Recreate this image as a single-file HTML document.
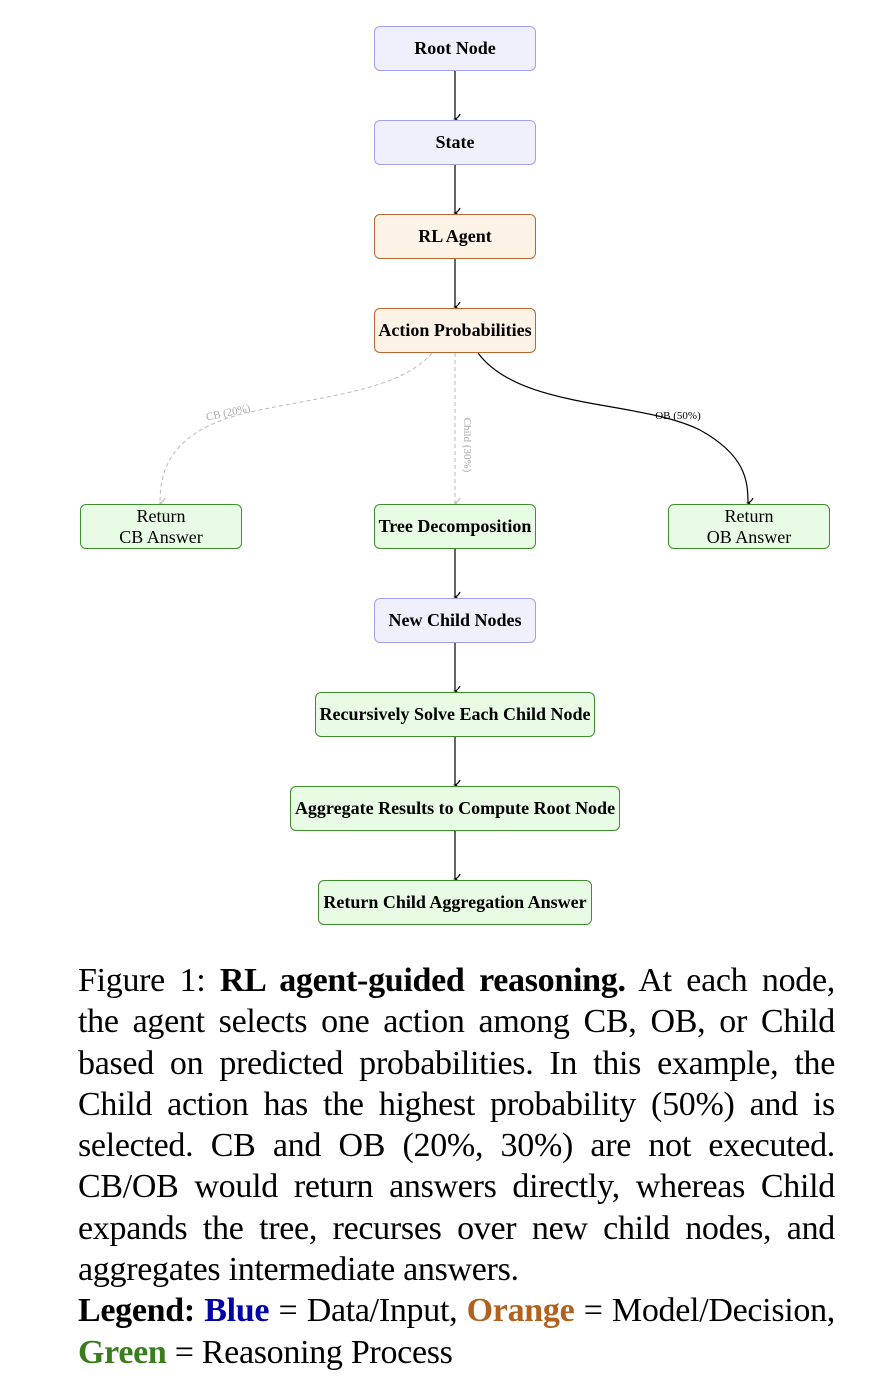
<!DOCTYPE html>
<html><head><meta charset="utf-8"><style>
body{margin:0;background:#fff;width:870px;height:1390px;position:relative;overflow:hidden;font-family:"Liberation Serif",serif}
.b{position:absolute;box-sizing:border-box;border-radius:6px;display:flex;align-items:center;justify-content:center;text-align:center;font-size:18px;font-weight:bold;color:#000;line-height:21px;white-space:nowrap}
.bl{background:#f0f0fc;border:1.5px solid #a0a0ee}
.or{background:#fdf2e6;border:1.5px solid #b8672e}
.gr{background:#e8fbe4;border:1.5px solid #3f8e2e}
.n{font-weight:normal}
.cap{position:absolute;left:78px;width:757px;font-size:34px;line-height:41.3px;top:960px}
.cap div{text-align:justify;text-align-last:justify;white-space:nowrap;height:41.3px;letter-spacing:-0.3px}
.cap div.l{text-align-last:left}
</style></head><body>
<svg width="870" height="950" style="position:absolute;left:0;top:0">
<defs>
<marker id="a" markerWidth="14" markerHeight="14" refX="7" refY="12" orient="auto" markerUnits="userSpaceOnUse" viewBox="0 0 14 14"><path d="M2,7 Q6,9 7,12 Q8,9 12,7" fill="none" stroke="#000" stroke-width="1.3"/></marker>
<marker id="g" markerWidth="14" markerHeight="14" refX="7" refY="12" orient="auto" markerUnits="userSpaceOnUse" viewBox="0 0 14 14"><path d="M2,7 Q6,9 7,12 Q8,9 12,7" fill="none" stroke="#bbb" stroke-width="1.2"/></marker>
</defs>
<g stroke="#000" stroke-width="1.2" fill="none" marker-end="url(#a)">
<line x1="455" y1="71" x2="455" y2="119"/>
<line x1="455" y1="165" x2="455" y2="213"/>
<line x1="455" y1="259" x2="455" y2="307"/>
<line x1="455" y1="549" x2="455" y2="597"/>
<line x1="455" y1="643" x2="455" y2="691"/>
<line x1="455" y1="737" x2="455" y2="785"/>
<line x1="455" y1="831" x2="455" y2="879"/>
<path d="M478,353 C520,410 640,400 700,430 C745,455 748,480 748,503"/>
</g>
<g stroke="#bbb" stroke-width="1" fill="none" stroke-dasharray="4,3" marker-end="url(#g)">
<path d="M432,353 C400,390 330,395 250,412 C170,430 160,470 160,503"/>
<line x1="455" y1="353" x2="455" y2="503"/>
</g>
<text x="228" y="416" font-size="11" fill="#aaa" font-family="Liberation Serif" text-anchor="middle" transform="rotate(-12 228 412)">CB (20%)</text>
<text x="678" y="419" font-size="11" fill="#000" font-family="Liberation Serif" text-anchor="middle">OB (50%)</text>
<text x="0" y="0" font-size="11" fill="#aaa" font-family="Liberation Serif" text-anchor="middle" transform="translate(464,445) rotate(90)">Child (30%)</text>
</svg>
<div class="b bl" style="left:374px;top:26px;width:162px;height:45px">Root Node</div>
<div class="b bl" style="left:374px;top:120px;width:162px;height:45px">State</div>
<div class="b or" style="left:374px;top:214px;width:162px;height:45px">RL Agent</div>
<div class="b or" style="left:374px;top:308px;width:162px;height:45px">Action Probabilities</div>
<div class="b gr n" style="left:80px;top:504px;width:162px;height:45px">Return<br>CB Answer</div>
<div class="b gr" style="left:374px;top:504px;width:162px;height:45px">Tree Decomposition</div>
<div class="b gr n" style="left:668px;top:504px;width:162px;height:45px">Return<br>OB Answer</div>
<div class="b bl" style="left:374px;top:598px;width:162px;height:45px">New Child Nodes</div>
<div class="b gr" style="left:315px;top:692px;width:280px;height:45px">Recursively Solve Each Child Node</div>
<div class="b gr" style="left:290px;top:786px;width:330px;height:45px">Aggregate Results to Compute Root Node</div>
<div class="b gr" style="left:318px;top:880px;width:274px;height:45px">Return Child Aggregation Answer</div>
<div class="cap">
<div>Figure 1: <b>RL agent-guided reasoning.</b> At each node,</div>
<div>the agent selects one action among CB, OB, or Child</div>
<div>based on predicted probabilities. In this example, the</div>
<div>Child action has the highest probability (50%) and is</div>
<div>selected. CB and OB (20%, 30%) are not executed.</div>
<div>CB/OB would return answers directly, whereas Child</div>
<div>expands the tree, recurses over new child nodes, and</div>
<div class="l">aggregates intermediate answers.</div>
<div><b>Legend:</b> <b style="color:#0000a8">Blue</b> = Data/Input, <b style="color:#b0621e">Orange</b> = Model/Decision,</div>
<div class="l"><b style="color:#3a7d1e">Green</b> = Reasoning Process</div>
</div>
</body></html>
